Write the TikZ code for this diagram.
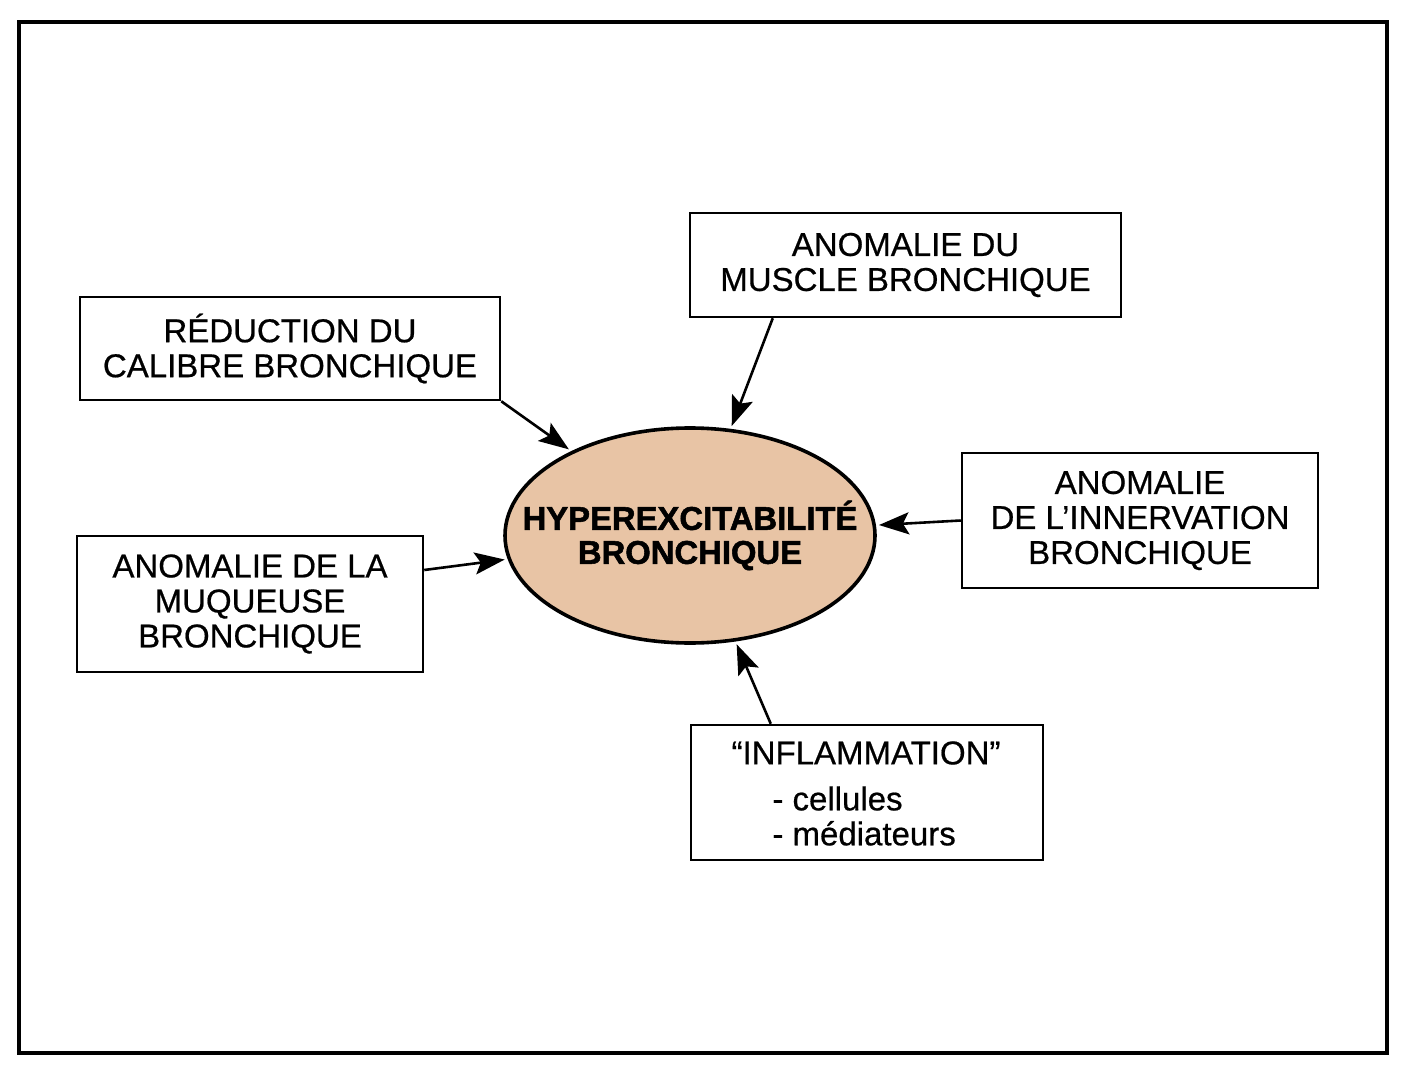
\documentclass[tikz,border=0pt]{standalone}
\usepackage{fontspec}
\setmainfont{Liberation Sans}[FakeBold=0.6]
\newfontfamily\heavyfont{Liberation Sans Bold}[FakeBold=1.6]
\usetikzlibrary{arrows.meta,shapes.geometric,calc}
\definecolor{tan}{RGB}{232,196,165}
\tikzset{
  box/.style={draw, line width=1.25pt, inner sep=0pt, align=center,
    font=\fontsize{16.5}{17.5}\selectfont},
  plain/.style={inner sep=0pt, font=\fontsize{16.5}{17.5}\selectfont},
  hypshape/.style={ellipse, draw, line width=1.8pt, fill=tan, inner sep=0pt,
    minimum width=185pt, minimum height=107.5pt},
  hyptext/.style={inner sep=0pt, align=center, font=\heavyfont\fontsize{16.4}{17}\selectfont},
  arr/.style={line width=1.3pt, shorten >=1.5pt, -{Stealth[length=15pt,width=11pt,inset=3pt]}}
}
\begin{document}
\begin{tikzpicture}[x=0.5pt,y=-0.5pt]
\useasboundingbox (0,0) rectangle (1412,1080);
\draw[line width=1.6pt] (19,22) rectangle (1387,1053);

\node[hypshape] (hyp) at (690,535.5) {};
\node[hyptext] (hyplabel) at (hyp) {HYPEREXCITABILITÉ\\BRONCHIQUE};

\node[box, minimum width=210pt, minimum height=51.5pt] (r1) at (290,348.5)
  {RÉDUCTION DU\\CALIBRE BRONCHIQUE};
\node[box, minimum width=215.5pt, minimum height=52pt] (r2) at (905.5,265)
  {ANOMALIE DU\\MUSCLE BRONCHIQUE};
\node[box, minimum width=178pt, minimum height=67.5pt] (r3) at (1140,520.5)
  {ANOMALIE\\DE L’INNERVATION\\BRONCHIQUE};
\node[box, minimum width=173pt, minimum height=68pt] (r4) at (250,604)
  {ANOMALIE DE LA\\MUQUEUSE\\BRONCHIQUE};
\node[box, minimum width=176pt, minimum height=67.5pt] (r5) at (867,792.5) {};
\node[plain] (r5title) at (866,753) {“INFLAMMATION”};
\node[plain, anchor=west, align=left] (r5list) at (772,816) {- cellules\\- médiateurs};

\draw[arr] (r1.south east) -- (hyp);
\draw[arr] ($(r2.south west)+(84,0)$) -- (hyp);
\draw[arr] (r3.west) -- (hyp);
\draw[arr] ($(r4.east)+(0,-34)$) -- (hyp);
\draw[arr] ($(r5.north west)+(81,0)$) -- (hyp);
\end{tikzpicture}
\end{document}
